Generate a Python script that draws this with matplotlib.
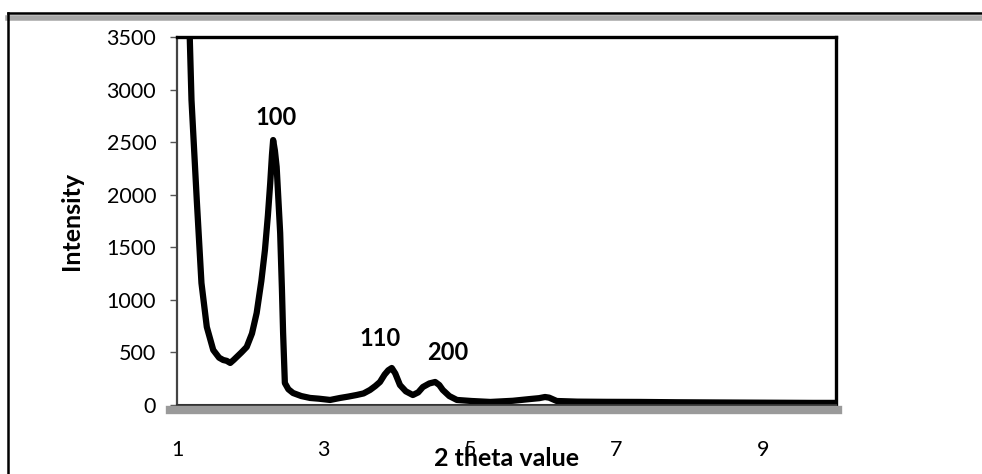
import matplotlib
matplotlib.use("Agg")
import matplotlib.pyplot as plt
from matplotlib.lines import Line2D

plt.rcParams['font.family'] = ['Lato', 'DejaVu Sans']

# XRD pattern: 2 theta (deg) vs. intensity (counts)
two_theta = [1.158, 1.198, 1.270, 1.334, 1.407, 1.495, 1.575, 1.631, 1.679, 1.727, 1.776,
             1.816, 1.880, 1.952, 2.024, 2.088, 2.152, 2.201, 2.241, 2.273, 2.297, 2.313,
             2.337, 2.361, 2.385, 2.409, 2.433, 2.449, 2.473, 2.521, 2.585, 2.698, 2.818,
             2.938, 3.091, 3.227, 3.339, 3.452, 3.548, 3.636, 3.708, 3.772, 3.836, 3.885,
             3.933, 3.981, 4.045, 4.125, 4.221, 4.294, 4.358, 4.446, 4.526, 4.582, 4.630,
             4.719, 4.823, 5.023, 5.280, 5.585, 5.825, 5.945, 6.026, 6.082, 6.186, 6.467,
             6.868, 7.325, 7.830, 8.391, 9.033, 9.674, 10.0]
intensity = [3900, 2900, 1950, 1160, 742, 523, 450, 428, 420, 400, 430,
             457, 500, 552, 680, 875, 1180, 1474, 1800, 2110, 2380, 2520,
             2420, 2264, 1950, 1636, 1100, 685, 209, 150, 114, 85, 67,
             60, 48, 67, 80, 95, 110, 143, 180, 219, 290, 330,
             352, 300, 190, 130, 95, 120, 171, 205, 219, 190, 143,
             85, 48, 38, 29, 40, 57, 65, 76, 70, 38, 32,
             30, 29, 26, 24, 22, 20, 20]

# reflection (hkl) labels and their positions in data coordinates
peak_labels = ["100", "110", "200"]
label_x = [2.35, 3.77, 4.70]
label_y = [2730, 628, 504]

x_ticks = [1, 3, 5, 7, 9]
y_ticks = [0, 500, 1000, 1500, 2000, 2500, 3000, 3500]

W, H = 982, 474
fig = plt.figure(figsize=(W / 100, H / 100), dpi=100)
L, R, T, B = 177, 836, 37, 405
ax = fig.add_axes([L / W, (H - B) / H, (R - L) / W, (B - T) / H])

ax.plot(two_theta, intensity, color='black', lw=4.5, solid_joinstyle='round',
        solid_capstyle='round', clip_on=True)

ax.set_xlim(1, 10)
ax.set_ylim(0, 3500)
ax.set_xticks(x_ticks)
ax.set_yticks(y_ticks)
ax.tick_params(axis='x', length=0, pad=25, labelsize=15.5)
ax.tick_params(axis='y', length=5, width=1, direction='out', pad=10, labelsize=15.5,
               color='#555555')

for s in ['top', 'right']:
    ax.spines[s].set_linewidth(2.4)
    ax.spines[s].set_color('black')
ax.spines['left'].set_linewidth(1.6)
ax.spines['left'].set_color('#444444')
ax.spines['bottom'].set_linewidth(1.5)
ax.spines['bottom'].set_color('#333333')

# grey band under the category axis
fig.add_artist(Line2D([170 / W, (R + 2) / W], [1 - 410 / H, 1 - 410 / H],
                      transform=fig.transFigure, color='#9a9a9a', lw=6))

for lab, lx, ly in zip(peak_labels, label_x, label_y):
    ax.text(lx, ly, lab, ha='center', va='center', fontsize=17, fontweight='bold')

ax.set_ylabel("Intensity", fontsize=18, fontweight='bold')
ax.yaxis.set_label_coords((72 - L) / (R - L), 0.5)
ax.set_xlabel("2 theta value", fontsize=18, fontweight='bold')
ax.xaxis.set_label_coords(0.5, -(458 - B) / (B - T))
ax.xaxis.label.set_va('center')
ax.yaxis.label.set_va('center')

# outer chart border
fig.add_artist(Line2D([8 / W, 1.0], [1 - 13 / H, 1 - 13 / H], transform=fig.transFigure,
                      color='black', lw=1.8))
fig.add_artist(Line2D([8 / W, 1.0], [1 - 18 / H, 1 - 18 / H], transform=fig.transFigure,
                      color='#a8a8a8', lw=4))
fig.add_artist(Line2D([8 / W, 8 / W], [0, 1 - 13 / H], transform=fig.transFigure,
                      color='black', lw=1.8))

fig.savefig("out.png", dpi=100)
